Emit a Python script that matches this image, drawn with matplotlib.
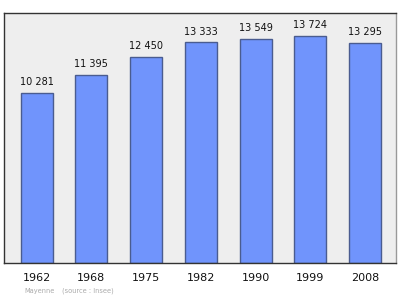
import matplotlib
matplotlib.use("Agg")
import matplotlib.pyplot as plt

# Population of Mayenne
years = ["1962", "1968", "1975", "1982", "1990", "1999", "2008"]
population = [10281, 11395, 12450, 13333, 13549, 13724, 13295]
value_labels = ["10 281", "11 395", "12 450", "13 333", "13 549", "13 724", "13 295"]

W, H = 400, 299
fig = plt.figure(figsize=(W / 100, H / 100), dpi=100)

# axes box in pixel coordinates: left 4, right 396, top 13, bottom 263
ax = fig.add_axes([4 / W, (H - 263) / H, 392 / W, 250 / H])
ax.set_facecolor("#eeeeee")

x = range(len(years))
ax.bar(x, population, width=0.585, color="#7094fc",
       edgecolor="#4a5c90", linewidth=1.0, zorder=2)

for i, (v, lab) in enumerate(zip(population, value_labels)):
    ax.text(i, v + 350, lab, ha="center", va="bottom",
            fontsize=7, color="#111111")

ax.set_xlim(-0.594, 6.566)
ax.set_ylim(0, 15115)
ax.set_xticks([])
ax.set_yticks([])
for s in ax.spines.values():
    s.set_color("#333333")
    s.set_linewidth(1.0)
ax.spines["right"].set_color("#999999")

# year labels under the frame
for i, yr in enumerate(years):
    px = (36.5 + i * 54.75) / W
    fig.text(px, (H - 278) / H, yr, ha="center", va="center",
             fontsize=8, color="#111111")

fig.text(24 / W, (H - 291) / H, "Mayenne", ha="left", va="center",
         fontsize=4.8, color="#aaaaaa")
fig.text(62 / W, (H - 291) / H, "(source : Insee)", ha="left", va="center",
         fontsize=4.8, color="#aaaaaa")

fig.savefig("out.png", dpi=100, facecolor="white")
